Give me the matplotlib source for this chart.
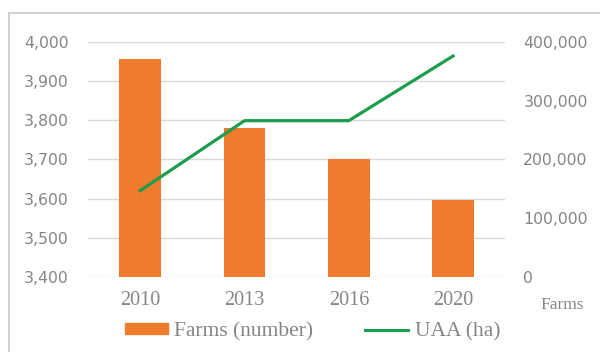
import matplotlib.pyplot as plt
from matplotlib.patches import Rectangle
from matplotlib.lines import Line2D
from matplotlib.ticker import FuncFormatter

# Farms and utilised agricultural area by census year
years = ['2010', '2013', '2016', '2020']
farms = [3957, 3781, 3700, 3597]
uaa = [147000, 266000, 266000, 376000]

orange = '#EF7B2D'
green = '#1B9E4B'
gray = '#858585'

fig = plt.figure(figsize=(6, 3.52), dpi=100)
ax = fig.add_axes([0.147, 0.213, 0.695, 0.668])
x = range(len(years))

ax.bar(x, farms, width=0.4, color=orange, zorder=2)
ax.set_ylim(3400, 4000)
ax.set_yticks(range(3400, 4001, 100))
ax.yaxis.set_major_formatter(FuncFormatter(lambda v, p: f'{int(v):,}'))
ax.set_xlim(-0.5, 3.5)
ax.set_xticks(list(x))
ax.set_xticklabels(years, family='Liberation Serif', fontsize=14.5, color=gray)
ax.grid(axis='y', color='#d9d9d9', linewidth=1, zorder=0)
ax.tick_params(axis='y', length=0, labelsize=11.3, labelcolor=gray, pad=14)
ax.tick_params(axis='x', length=0, pad=10)
for s in ax.spines.values():
    s.set_visible(False)

ax2 = ax.twinx()
ax2.plot(x, uaa, color=green, linewidth=2.3, zorder=3)
ax2.set_ylim(0, 400000)
ax2.set_yticks(range(0, 400001, 100000))
ax2.yaxis.set_major_formatter(FuncFormatter(lambda v, p: f'{int(v):,}'))
ax2.tick_params(axis='y', length=0, labelsize=11.3, labelcolor=gray, pad=13)
for s in ax2.spines.values():
    s.set_visible(False)

fig.text(0.9, 0.134, 'Farms', family='Liberation Serif', fontsize=12.5,
         color=gray, va='center')

# legend drawn below the axis labels
handles = [Rectangle((0, 0), 1, 1, color=orange),
           Line2D([0], [0], color=green, linewidth=2.2)]
leg = fig.legend(handles, ['Farms (number)', 'UAA (ha)'], loc='center',
                 bbox_to_anchor=(0.521, 0.058), ncol=2, frameon=False,
                 prop={'family': 'Liberation Serif', 'size': 15.5},
                 handlelength=2.0, handleheight=0.4, columnspacing=2.4,
                 handletextpad=0.3)
for t in leg.get_texts():
    t.set_color(gray)

# outer chart frame
fig.add_artist(Rectangle((9 / 600, -0.1), 1.2, 1 - 13 / 352 + 0.1,
                         transform=fig.transFigure, fill=False,
                         edgecolor='#d0d0d0', linewidth=1.5))

fig.savefig('out.png', dpi=100)
